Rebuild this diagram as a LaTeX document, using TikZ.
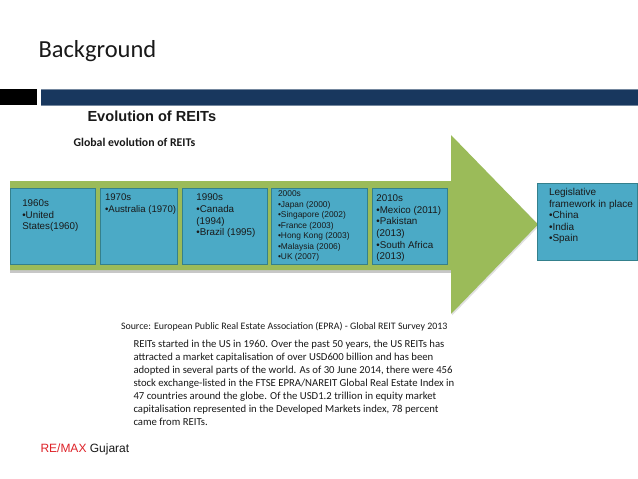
\documentclass[tikz,border=0pt]{standalone}
\usepackage{fontspec}
\setmainfont{Carlito}
\newfontfamily\arialf{Liberation Sans}
\definecolor{barblue}{RGB}{24,55,94}
\definecolor{arrowgreen}{RGB}{155,187,89}
\definecolor{boxfill}{RGB}{75,170,198}
\definecolor{boxline}{RGB}{52,128,140}
\definecolor{remaxred}{RGB}{222,34,40}
\definecolor{txt}{RGB}{25,25,25}
\begin{document}
\begin{tikzpicture}[x=1pt,y=-1pt,
  lbl/.style={inner sep=0pt,outer sep=0pt,anchor=base west,text=txt},
  blk/.style={inner sep=0pt,outer sep=0pt,anchor=north west,align=left,text=txt},
  era/.style={fill=boxfill,draw=boxline,line width=0.9pt}]
\useasboundingbox[fill=white] (0,0) rectangle (638,479);
% title
\node[lbl,font={\fontsize{24.5}{28}\selectfont}] (title) at (38.5,57.7) {Background};
% bars
\fill[black] (0,89.3) rectangle (36.7,105);
\fill[barblue] (41,89.3) rectangle (638,105);
\draw[barblue!60!white,line width=0.5pt] (41,89.5) -- (638,89.5) (41,104.8) -- (638,104.8);
\node[lbl,font={\arialf\bfseries\fontsize{14.6}{18}\selectfont}] (evo) at (87.5,121.7) {Evolution of REITs};
\node[lbl,font={\bfseries\fontsize{11.8}{14}\selectfont}] (glob) at (73.6,146) {Global evolution of REITs};
% arrow shadow and arrow
\fill[black!22] (10,182) -- (452,182) -- (452,272.5) -- (10,272.5) -- cycle;
\fill[black!12] (452,137) -- (539.5,225.5) -- (452,315.5) -- cycle;
\fill[arrowgreen] (10,181) -- (451,181) -- (451,135) -- (538,224.5) -- (451,314) -- (451,270) -- (10,270) -- cycle;
% boxes
\draw[era] (10.5,188.5) rectangle (95.5,264.5);
\draw[era] (100,188.5) rectangle (177.5,264.5);
\draw[era] (182.5,188.5) rectangle (267.5,264.5);
\draw[era] (271.5,188.5) rectangle (367.5,264.5);
\draw[era] (372,188.5) rectangle (447.5,264.5);
\draw[era] (537,183.5) rectangle (637,260);
% box texts
\node[blk,font={\arialf\fontsize{9.8}{11.7}\selectfont}] (t1) at (22.3,199.7) {1960s\\•United\\States(1960)};
\node[blk,font={\arialf\fontsize{9.6}{11.6}\selectfont}] (t2) at (105,193.7) {1970s\\•Australia (1970)};
\node[blk,font={\arialf\fontsize{9.8}{11.7}\selectfont}] (t3) at (196.4,194) {1990s\\•Canada\\(1994)\\•Brazil (1995)};
\node[blk,font={\arialf\fontsize{8.4}{10.55}\selectfont}] (t4) at (278,190.7) {2000s\\•Japan (2000)\\•Singapore (2002)\\•France (2003)\\•Hong Kong (2003)\\•Malaysia (2006)\\•UK (2007)};
\node[blk,font={\arialf\fontsize{9.8}{11.66}\selectfont}] (t5) at (376.4,194.7) {2010s\\•Mexico (2011)\\•Pakistan\\(2013)\\•South Africa\\(2013)};
\node[blk,font={\arialf\fontsize{10}{11.4}\selectfont}] (t6) at (549,188.7) {Legislative\\framework in place\\•China\\•India\\•Spain};
% source and paragraph
\node[lbl,font={\fontsize{9.9}{11}\selectfont}] (src) at (121,329.5) {Source: European Public Real Estate Association (EPRA) - Global REIT Survey 2013};
\node[blk,font={\fontsize{10.7}{13}\selectfont}] (para) at (133.5,339.6) {REITs started in the US in 1960. Over the past 50 years, the US REITs has\\attracted a market capitalisation of over USD600 billion and has been\\adopted in several parts of the world. As of 30 June 2014, there were 456\\stock exchange-listed in the FTSE EPRA/NAREIT Global Real Estate Index in\\47 countries around the globe. Of the USD1.2 trillion in equity market\\capitalisation represented in the Developed Markets index, 78 percent\\came from REITs.};
% footer
\node[lbl,font={\arialf\fontsize{12}{14}\selectfont}] (foot) at (40.5,452) {\textcolor{remaxred}{RE/MAX} Gujarat};
\end{tikzpicture}
\end{document}
